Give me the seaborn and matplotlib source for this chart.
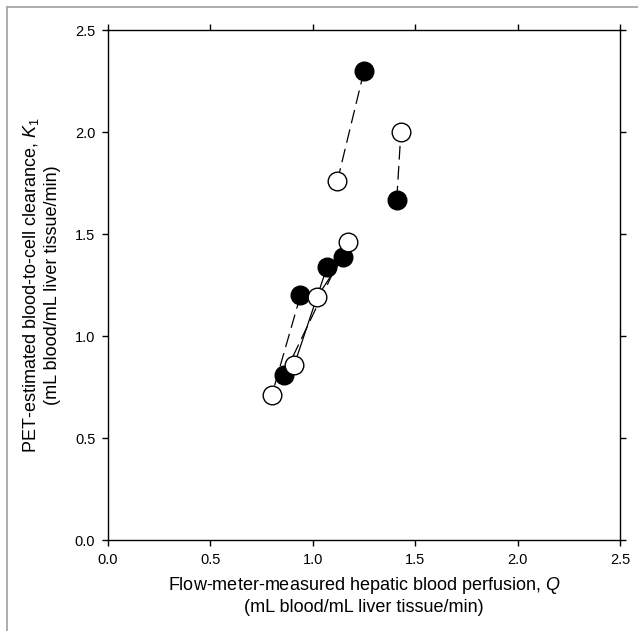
import pandas as pd
import seaborn as sns
import matplotlib.pyplot as plt
from matplotlib.lines import Line2D

# flow-meter Q vs PET K1, filled / open symbols, lines join paired points
filled_q = [1.25, 1.41, 0.94, 1.07, 0.86, 1.15]
filled_k = [2.30, 1.67, 1.20, 1.34, 0.81, 1.39]
open_q = [1.12, 1.43, 0.80, 0.91, 1.17, 1.02]
open_k = [1.76, 2.00, 0.71, 0.86, 1.46, 1.19]
pair_style = ['dash', 'dash', 'dash', 'solid', 'dash', 'solid']

ticks = [0.0, 0.5, 1.0, 1.5, 2.0, 2.5]
tick_labels = ['0.0', '0.5', '1.0', '1.5', '2.0', '2.5']

sns.set_style('ticks')
plt.rcParams['font.family'] = ['Liberation Sans', 'DejaVu Sans']
plt.rcParams['mathtext.fontset'] = 'custom'
plt.rcParams['mathtext.rm'] = 'Liberation Sans'
plt.rcParams['mathtext.it'] = 'Liberation Sans:italic'
plt.rcParams['text.color'] = 'black'
plt.rcParams['axes.labelcolor'] = 'black'
plt.rcParams['xtick.color'] = 'black'
plt.rcParams['ytick.color'] = 'black'

filled_df = pd.DataFrame({'Q': filled_q, 'K': filled_k})
open_df = pd.DataFrame({'Q': open_q, 'K': open_k})

# segments for the connecting lines
seg_rows = []
for i in range(len(filled_q)):
    seg_rows.append({'pair': i, 'Q': filled_q[i], 'K': filled_k[i], 'ls': pair_style[i]})
    seg_rows.append({'pair': i, 'Q': open_q[i], 'K': open_k[i], 'ls': pair_style[i]})
seg_df = pd.DataFrame(seg_rows)

fig = plt.figure(figsize=(6.38, 6.31), dpi=100)
ax = fig.add_axes([0.169, 0.144, 0.803, 0.808])

sns.lineplot(data=seg_df, x='Q', y='K', units='pair', style='ls', estimator=None,
             sort=False, color='black', lw=0.9, legend=False,
             dashes={'dash': (11, 5), 'solid': ''}, ax=ax, zorder=2)
sns.scatterplot(data=filled_df, x='Q', y='K', s=180, color='black',
                edgecolor='black', linewidth=1, ax=ax, zorder=3)
sns.scatterplot(data=open_df, x='Q', y='K', s=180, facecolor='white',
                edgecolor='black', linewidth=1, ax=ax, zorder=4)

ax.set_xlim(0, 2.5)
ax.set_ylim(0, 2.5)
ax.set_xticks(ticks)
ax.set_xticklabels(tick_labels)
ax.set_yticks(ticks)
ax.set_yticklabels(tick_labels)
ax.tick_params(direction='out', length=4, width=1, labelsize=10.5, color='black',
               labelcolor='black', top=True, right=True, pad=5)
for s in ax.spines.values():
    s.set_linewidth(1)
    s.set_color('black')

ax.set_xlabel('Flow-meter-measured hepatic blood perfusion, $Q$\n(mL blood/mL liver tissue/min)',
              fontsize=13, labelpad=6, color='black')
ax.set_ylabel('PET-estimated blood-to-cell clearance, $K_{\\mathit{1}}$\n(mL blood/mL liver tissue/min)',
              fontsize=13, labelpad=10, color='black')

# thin grey frame at the top and left of the figure
fig.add_artist(Line2D([0.011, 0.011], [0, 0.989], color='#a0a0a0', lw=1.2))
fig.add_artist(Line2D([0.011, 1], [0.989, 0.989], color='#a0a0a0', lw=1.2))

fig.savefig('out.png', dpi=100, facecolor='white')
